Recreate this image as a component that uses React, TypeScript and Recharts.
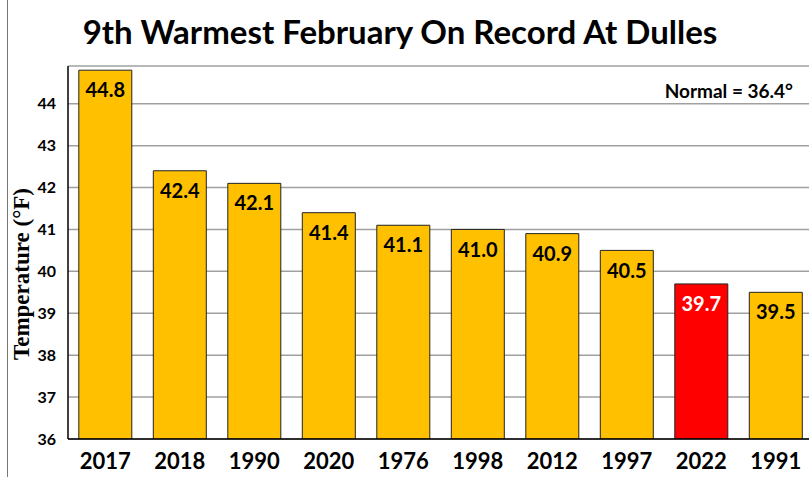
import { BarChart, Bar, Cell, CartesianGrid, XAxis, YAxis, LabelList } from 'recharts';

const years = ['2017', '2018', '1990', '2020', '1976', '1998', '2012', '1997', '2022', '1991'];
const temps = [44.8, 42.4, 42.1, 41.4, 41.1, 41.0, 40.9, 40.5, 39.7, 39.5];
const yTicks = [36, 37, 38, 39, 40, 41, 42, 43, 44];
const highlightYear = '2022';

const data = years.map((year, i) => ({ year, temp: temps[i] }));

const FONT = 'Lato, "Open Sans", sans-serif';

const App = () => {
  return (
    <div style={{ position: 'absolute', left: 0, top: 0, width: 809, height: 477, overflow: 'hidden', background: '#fff' }}>
      <div style={{ position: 'absolute', left: 7, top: 0, width: 1, height: 477, background: '#777' }} />
      <div
        style={{
          position: 'absolute', left: 0, top: 11, width: 800, textAlign: 'center',
          fontFamily: FONT, fontWeight: 700, fontSize: 33, color: '#000', lineHeight: '40px',
        }}
      >
        9th Warmest February On Record At Dulles
      </div>
      <div
        style={{
          position: 'absolute', left: 560, top: 79, width: 233, textAlign: 'right',
          fontFamily: FONT, fontWeight: 700, fontSize: 19, color: '#000', lineHeight: '24px',
        }}
      >
        Normal = 36.4°
      </div>
      <div
        style={{
          position: 'absolute', left: 22, top: 274, transform: 'translate(-50%, -50%) rotate(-90deg)',
          fontFamily: '"Liberation Serif", "DejaVu Serif", serif', fontWeight: 700, fontSize: 23,
          whiteSpace: 'nowrap', color: '#000', lineHeight: '26px',
        }}
      >
        Temperature (°F)
      </div>
      <div style={{ position: 'absolute', left: 0, top: 0 }}>
        <BarChart
          width={820}
          height={477}
          data={data}
          margin={{ top: 66, right: 7, bottom: 0, left: 0 }}
          barCategoryGap="14.5%"
        >
          <CartesianGrid vertical={false} stroke="#a0a0a0" strokeWidth={1.5} />
          <XAxis
            dataKey="year"
            height={38}
            axisLine={{ stroke: '#000', strokeWidth: 1.5 }}
            tickLine={false}
            tick={{ fontFamily: FONT, fontWeight: 700, fontSize: 22, fill: '#000' }}
            dy={6}
            interval={0}
          />
          <YAxis
            width={68}
            domain={[36, 44.9]}
            ticks={yTicks}
            allowDataOverflow
            axisLine={{ stroke: '#000', strokeWidth: 1.5 }}
            tickLine={false}
            tick={{ fontFamily: FONT, fontWeight: 700, fontSize: 16, fill: '#000' }}
            dx={-4}
          />
          <Bar dataKey="temp" stroke="#222" strokeWidth={1} isAnimationActive={false}>
            {data.map((d) => (
              <Cell key={d.year} fill={d.year === highlightYear ? '#ff0000' : '#ffc000'} />
            ))}
            <LabelList
              dataKey="temp"
              content={(props: any) => {
                const { x, y, width, value, index } = props;
                const isRed = years[index] === highlightYear;
                return (
                  <text
                    x={x + width / 2}
                    y={y + 22}
                    textAnchor="middle"
                    dominantBaseline="middle"
                    fontFamily={FONT}
                    fontWeight={700}
                    fontSize={20}
                    fill={isRed ? '#fff' : '#000'}
                  >
                    {Number(value).toFixed(1)}
                  </text>
                );
              }}
            />
          </Bar>
        </BarChart>
      </div>
    </div>
  );
};

export default App;
